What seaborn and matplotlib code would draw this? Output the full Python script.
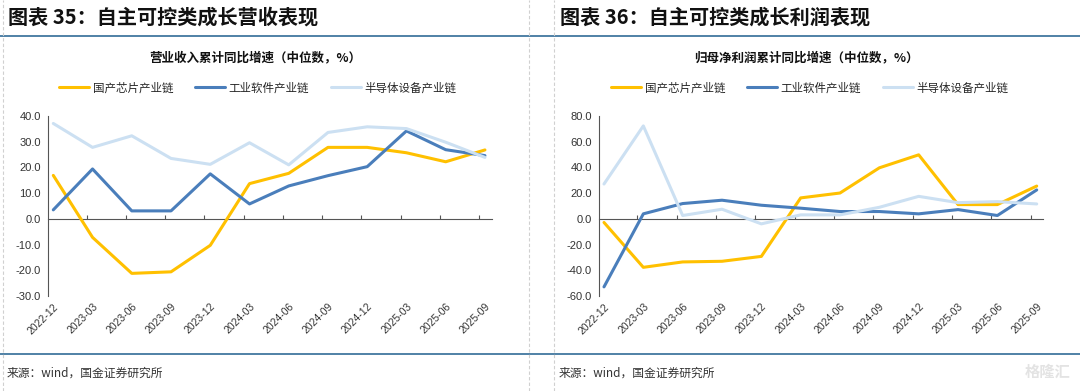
import matplotlib.pyplot as plt
import numpy as np
import pandas as pd
import seaborn as sns
from matplotlib.lines import Line2D

periods = ["2022-12", "2023-03", "2023-06", "2023-09", "2023-12", "2024-03",
           "2024-06", "2024-09", "2024-12", "2025-03", "2025-06", "2025-09"]
series_names = ["国产芯片产业链", "工业软件产业链", "半导体设备产业链"]

# 营业收入累计同比增速（中位数，%）
rev_chip = [16.9, -7.2, -21.2, -20.6, -10.3, 13.7, 17.7, 27.8, 27.8, 25.7, 22.2, 26.8]
rev_soft = [3.5, 19.4, 3.1, 3.1, 17.5, 5.8, 12.8, 16.8, 20.3, 34.2, 26.9, 24.6]
rev_equip = [37.1, 27.8, 32.3, 23.5, 21.2, 29.6, 21.0, 33.6, 35.8, 35.1, 29.8, 23.9]

# 归母净利润累计同比增速（中位数，%）
np_chip = [-2.8, -37.7, -33.5, -33.0, -29.2, 16.3, 20.1, 39.7, 49.8, 11.1, 11.1, 25.5]
np_soft = [-52.9, 3.9, 11.9, 14.5, 10.6, 8.3, 5.7, 5.7, 3.9, 7.2, 2.6, 22.5]
np_equip = [27.1, 72.3, 2.6, 7.5, -3.9, 3.1, 3.1, 9.0, 17.5, 12.6, 13.4, 11.6]

colors = ["#FFC000", "#4A7EBB", "#CCE0F2"]

sns.set_style("white")
plt.rcParams["font.family"] = ["Noto Sans CJK SC", "DejaVu Sans"]


def to_long(values):
    frames = []
    for name, vals in zip(series_names, values):
        frames.append(pd.DataFrame({"x": np.arange(len(periods)), "value": vals, "series": name}))
    return pd.concat(frames, ignore_index=True)


def draw_panel(fig, rect, data, ylim, step, xlim):
    ax = fig.add_axes(rect)
    sns.lineplot(data=data, x="x", y="value", hue="series", hue_order=series_names,
                 palette=colors, linewidth=2.2, ax=ax, legend=False)
    ax.set_xlim(*xlim)
    ax.set_ylim(*ylim)
    yt = np.arange(ylim[0], ylim[1] + 1, step)
    ax.set_yticks(yt)
    ax.set_yticklabels([f"{v:.1f}" for v in yt],
                       family="Liberation Sans", fontsize=8, color="#333333")
    ax.set_xticks(np.arange(len(periods)))
    ax.set_xticklabels(periods, rotation=45, ha="right", rotation_mode="anchor",
                       family="Liberation Sans", fontsize=7.5, color="#333333")
    ax.tick_params(axis="x", length=0, pad=4)
    ax.tick_params(axis="y", length=3, width=0.8, direction="out", pad=2)
    ax.set_xlabel("")
    ax.set_ylabel("")
    for side in ["top", "right", "bottom"]:
        ax.spines[side].set_visible(False)
    ax.spines["left"].set_color("#555555")
    ax.spines["left"].set_linewidth(0.8)

    # zero line with tick marks between categories
    frac = -ylim[0] / (ylim[1] - ylim[0])
    zero = ax.secondary_xaxis(frac)
    zero.set_xticks(np.arange(1, len(periods)) - 0.15)
    zero.set_xticklabels([])
    zero.tick_params(direction="in", length=3, width=0.8, color="#555555")
    zero.spines["bottom"].set_color("#555555")
    zero.spines["bottom"].set_linewidth(0.8)
    for side in ["top", "left", "right"]:
        zero.spines[side].set_visible(False)
    return ax


fig = plt.figure(figsize=(10.8, 3.91), dpi=100)

left = draw_panel(fig, [48 / 1080, 95 / 391, 444 / 1080, 180 / 391],
                  to_long([rev_chip, rev_soft, rev_equip]), (-30, 40), 10, (-0.135, 11.18))
right = draw_panel(fig, [599 / 1080, 95 / 391, 444 / 1080, 180 / 391],
                   to_long([np_chip, np_soft, np_equip]), (-60, 80), 20, (-0.127, 11.16))

handles = [Line2D([0], [0], color=c, lw=2.2) for c in colors]
for cx in [258 / 1080, 810 / 1080]:
    fig.legend(handles, series_names, loc="center", bbox_to_anchor=(cx, 1 - 88 / 391),
               ncol=3, frameon=False, fontsize=8.3, handlelength=2.6, handletextpad=0.3,
               columnspacing=1.9)

# titles
fig.text(8 / 1080, 1 - 17 / 391, "图表 35：自主可控类成长营收表现", fontsize=14.5,
         fontweight="bold", va="center", ha="left", color="#111111")
fig.text(560 / 1080, 1 - 17 / 391, "图表 36：自主可控类成长利润表现", fontsize=14.5,
         fontweight="bold", va="center", ha="left", color="#111111")
fig.text(255 / 1080, 1 - 58 / 391, "营业收入累计同比增速（中位数，%）", fontsize=9,
         fontweight="bold", va="center", ha="center", color="#111111")
fig.text(806 / 1080, 1 - 58 / 391, "归母净利润累计同比增速（中位数，%）", fontsize=9,
         fontweight="bold", va="center", ha="center", color="#111111")

# source notes
fig.text(7 / 1080, 1 - 373 / 391, "来源：wind，国金证券研究所", fontsize=8.5,
         va="center", ha="left", color="#333333")
fig.text(559 / 1080, 1 - 373 / 391, "来源：wind，国金证券研究所", fontsize=8.5,
         va="center", ha="left", color="#333333")
fig.text(1070 / 1080, 1 - 372 / 391, "格隆汇", fontsize=11, fontweight="bold",
         va="center", ha="right", color="#E3E3E3")

# frame lines
for y in [36, 354]:
    fig.add_artist(Line2D([0, 1], [1 - y / 391, 1 - y / 391], color="#4F81A6", lw=1.4))
for x in [3, 529, 554]:
    fig.add_artist(Line2D([x / 1080, x / 1080], [0, 1], color="#D0D0D0", lw=0.8,
                          linestyle=(0, (3, 2))))

fig.savefig("out.png", dpi=100)
plt.close(fig)
